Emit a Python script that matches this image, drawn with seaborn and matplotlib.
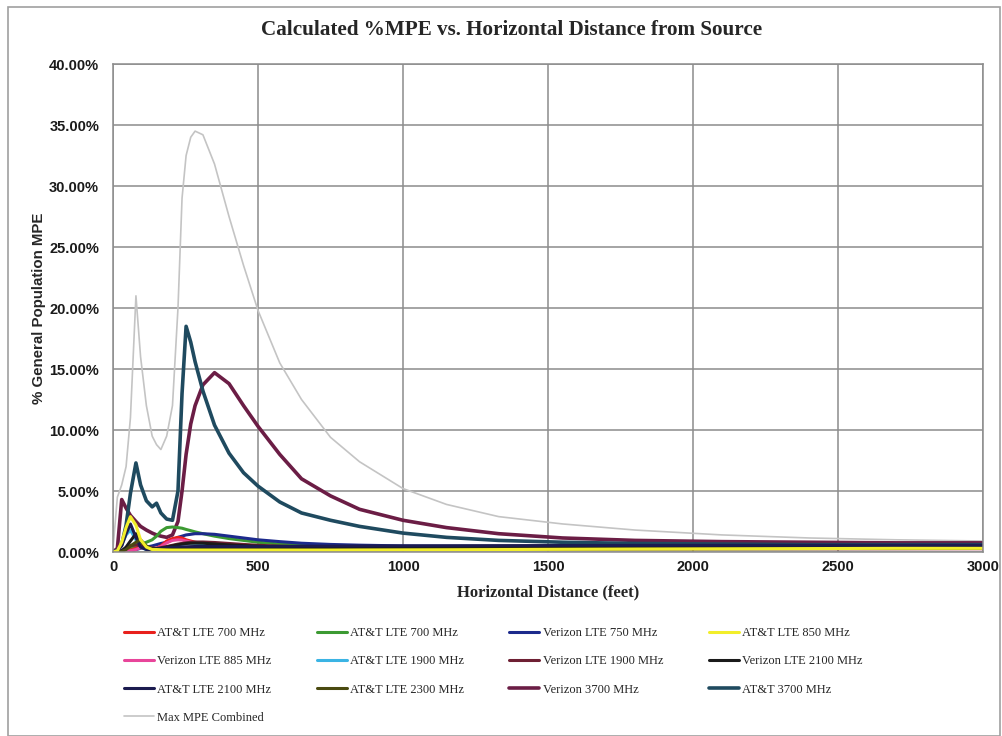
import numpy as np
import pandas as pd
import matplotlib
matplotlib.use("Agg")
import matplotlib.pyplot as plt
from matplotlib.ticker import PercentFormatter, MultipleLocator
from matplotlib.patches import Rectangle
import seaborn as sns

# ---------------- data (percent of general population MPE) ----------------
distance_ft = [0, 15, 30, 45, 60, 79, 95, 115, 135, 150, 165, 185, 205, 224, 238, 252,
               268, 283, 310, 350, 400, 450, 500, 575, 650, 750, 850, 1000, 1150, 1330,
               1550, 1800, 2100, 2400, 2700, 3000]

att_lte_700_a = [0, 0, 0, 0.05, 0.15, 0.3, 0.5, 0.4, 0.3, 0.3, 0.5, 0.9, 1.1, 1.2, 1.15, 1.0,
                 0.9, 0.8, 0.7, 0.6, 0.5, 0.45, 0.4, 0.36, 0.33, 0.3, 0.3, 0.3, 0.3, 0.3,
                 0.3, 0.3, 0.3, 0.3, 0.3, 0.3]
att_lte_700_b = [0, 0, 0.05, 0.15, 0.3, 0.5, 0.6, 0.8, 1.0, 1.3, 1.7, 2.0, 2.05, 2.0, 1.95, 1.85,
                 1.75, 1.65, 1.5, 1.3, 1.1, 0.95, 0.8, 0.65, 0.55, 0.45, 0.4, 0.35, 0.33, 0.3,
                 0.3, 0.3, 0.3, 0.3, 0.3, 0.3]
vzw_lte_750 = [0, 0, 0, 0.05, 0.1, 0.2, 0.3, 0.4, 0.5, 0.6, 0.7, 0.8, 1.0, 1.2, 1.3, 1.4,
               1.45, 1.5, 1.5, 1.45, 1.3, 1.15, 1.0, 0.85, 0.72, 0.62, 0.56, 0.5, 0.48, 0.47,
               0.47, 0.47, 0.47, 0.47, 0.47, 0.47]
att_lte_850 = [0, 0.1, 0.8, 2.0, 2.9, 2.2, 1.0, 0.4, 0.2, 0.2, 0.18, 0.16, 0.15, 0.15, 0.15, 0.15,
               0.15, 0.15, 0.15, 0.15, 0.15, 0.15, 0.15, 0.15, 0.15, 0.15, 0.16, 0.17, 0.18, 0.2,
               0.22, 0.24, 0.26, 0.28, 0.3, 0.3]
vzw_lte_885 = [0, 0, 0, 0.05, 0.1, 0.2, 0.35, 0.3, 0.25, 0.3, 0.45, 0.75, 0.95, 1.0, 0.98, 0.9,
               0.82, 0.74, 0.65, 0.56, 0.48, 0.42, 0.38, 0.34, 0.31, 0.29, 0.28, 0.27, 0.27, 0.27,
               0.27, 0.27, 0.27, 0.27, 0.27, 0.27]
att_lte_1900 = [0, 0.1, 0.6, 1.4, 1.8, 1.0, 0.4, 0.2, 0.2, 0.25, 0.3, 0.4, 0.5, 0.6, 0.65, 0.7,
                0.72, 0.72, 0.7, 0.62, 0.55, 0.48, 0.42, 0.38, 0.35, 0.33, 0.32, 0.32, 0.32, 0.33,
                0.34, 0.35, 0.36, 0.37, 0.38, 0.38]
vzw_lte_1900 = [0, 0, 0.1, 0.3, 0.5, 0.6, 0.5, 0.35, 0.3, 0.3, 0.35, 0.45, 0.55, 0.65, 0.7, 0.75,
                0.8, 0.82, 0.82, 0.78, 0.7, 0.62, 0.55, 0.48, 0.43, 0.4, 0.38, 0.37, 0.37, 0.38,
                0.39, 0.4, 0.41, 0.42, 0.43, 0.44]
vzw_lte_2100 = [0, 0, 0.1, 0.4, 0.9, 1.5, 0.9, 0.4, 0.25, 0.25, 0.3, 0.4, 0.5, 0.6, 0.65, 0.7,
                0.72, 0.73, 0.72, 0.66, 0.58, 0.52, 0.47, 0.43, 0.41, 0.4, 0.4, 0.4, 0.41, 0.42,
                0.43, 0.45, 0.46, 0.47, 0.48, 0.48]
att_lte_2100 = [0, 0.1, 0.5, 1.5, 2.3, 1.2, 0.4, 0.2, 0.2, 0.25, 0.3, 0.35, 0.38, 0.4, 0.42, 0.43,
                0.44, 0.45, 0.45, 0.45, 0.45, 0.45, 0.45, 0.46, 0.47, 0.48, 0.49, 0.5, 0.51, 0.52,
                0.53, 0.54, 0.55, 0.55, 0.55, 0.55]
att_lte_2300 = [0, 0, 0.05, 0.2, 0.5, 0.8, 1.0, 0.5, 0.25, 0.2, 0.2, 0.2, 0.2, 0.2, 0.2, 0.2,
                0.2, 0.2, 0.2, 0.2, 0.2, 0.2, 0.2, 0.2, 0.2, 0.2, 0.2, 0.2, 0.21, 0.22,
                0.23, 0.24, 0.25, 0.26, 0.27, 0.28]
vzw_3700 = [0, 0.3, 4.3, 3.6, 3.0, 2.5, 2.1, 1.8, 1.55, 1.4, 1.3, 1.2, 1.4, 2.5, 5.0, 8.0,
            10.5, 12.0, 13.7, 14.7, 13.8, 12.0, 10.3, 8.0, 6.0, 4.6, 3.5, 2.6, 2.0, 1.5,
            1.15, 0.95, 0.85, 0.8, 0.75, 0.75]
att_3700 = [0, 0.1, 0.6, 2.2, 4.8, 7.3, 5.5, 4.2, 3.7, 4.0, 3.2, 2.7, 2.6, 5.0, 13.0, 18.5,
            17.2, 15.6, 13.2, 10.4, 8.1, 6.5, 5.4, 4.1, 3.2, 2.6, 2.1, 1.55, 1.2, 0.95,
            0.8, 0.7, 0.65, 0.6, 0.6, 0.6]
max_mpe_combined = [0.3, 4.5, 5.5, 7.0, 11.0, 21.0, 16.0, 12.0, 9.5, 8.8, 8.4, 9.5, 12.0, 20.0, 29.0, 32.5,
                    34.0, 34.5, 34.2, 31.8, 27.5, 23.5, 19.8, 15.5, 12.5, 9.4, 7.4, 5.2, 3.9, 2.9,
                    2.3, 1.8, 1.4, 1.15, 1.0, 0.9]

series_names = ["AT&T LTE 700 MHz", "AT&T LTE 700 MHz", "Verizon LTE 750 MHz", "AT&T LTE 850 MHz",
                "Verizon LTE 885 MHz", "AT&T LTE 1900 MHz", "Verizon LTE 1900 MHz",
                "Verizon LTE 2100 MHz", "AT&T LTE 2100 MHz", "AT&T LTE 2300 MHz",
                "Verizon 3700 MHz", "AT&T 3700 MHz", "Max MPE Combined"]
series_values = [att_lte_700_a, att_lte_700_b, vzw_lte_750, att_lte_850, vzw_lte_885,
                 att_lte_1900, vzw_lte_1900, vzw_lte_2100, att_lte_2100, att_lte_2300,
                 vzw_3700, att_3700, max_mpe_combined]
series_colors = ["#E8201C", "#3C9A32", "#1C2A8C", "#F2EE2A", "#E8459A", "#3BB4E4",
                 "#6E1F33", "#1A1A1A", "#1B1B4F", "#4A4A10", "#6B1D45", "#1F4A5F", "#C4C4C4"]
series_widths = [2.2, 2.2, 2.2, 2.2, 2.2, 2.2, 2.2, 2.2, 2.2, 2.2, 2.6, 2.6, 1.2]

# ---------------- figure ----------------
sns.set_theme(style="white")
plt.rcParams["font.family"] = ["Liberation Sans", "DejaVu Sans"]

fig = plt.figure(figsize=(10.02, 7.36), dpi=100)
ax = fig.add_axes([0.1128, 0.25, 0.981 - 0.1128, 0.913 - 0.25])

draw_order = [12, 10, 11, 1, 2, 0, 4, 5, 6, 7, 8, 9, 3]
handles = {}
for i in draw_order:
    sns.lineplot(x=distance_ft, y=series_values[i], color=series_colors[i],
                 linewidth=series_widths[i], ax=ax, label=series_names[i] + f"__{i}",
                 legend=False)
    handles[i] = ax.lines[-1]
    handles[i].set_solid_joinstyle("round")
    handles[i].set_solid_capstyle("round")

ax.set_xlim(0, 3000)
ax.set_ylim(0, 40)
ax.xaxis.set_major_locator(MultipleLocator(500))
ax.yaxis.set_major_locator(MultipleLocator(5))
ax.yaxis.set_major_formatter(PercentFormatter(xmax=100, decimals=2))
ax.grid(True, color="#8C8C8C", linewidth=1.1)
ax.set_axisbelow(True)
for s in ax.spines.values():
    s.set_color("#8C8C8C")
    s.set_linewidth(1.1)
ax.tick_params(axis="y", labelsize=10.5, length=0, pad=10)
ax.tick_params(axis="x", labelsize=10.5, length=0, pad=6)
for lab in ax.get_xticklabels() + ax.get_yticklabels():
    lab.set_fontweight("bold")
    lab.set_color("#1a1a1a")

serif = ["Liberation Serif", "DejaVu Serif"]
ax.set_xlabel("Horizontal Distance (feet)", fontsize=12, fontweight="bold",
              family=serif, labelpad=7)
ax.set_ylabel("% General Population MPE", fontsize=10.8, fontweight="bold",
              family=["Liberation Sans", "DejaVu Sans"], labelpad=2)
fig.text(0.511, 0.959, "Calculated %MPE vs. Horizontal Distance from Source",
         ha="center", va="center", fontsize=15.2, fontweight="bold", family=serif)

# legend: column-major order so the rows read like the reference
legend_order = [0, 4, 8, 12, 1, 5, 9, 2, 6, 10, 3, 7, 11]
leg = fig.legend([handles[i] for i in legend_order],
                 [series_names[i] for i in legend_order],
                 loc="upper left", bbox_to_anchor=(0.1235, 0.148), ncol=4,
                 frameon=False, prop={"family": serif, "size": 9},
                 handlelength=2.4, handletextpad=0.3, columnspacing=3.6,
                 labelspacing=1.3, borderaxespad=0, borderpad=0)

fig.patches.append(Rectangle((0.008, 0.0), 0.99, 0.99, transform=fig.transFigure,
                             fill=False, edgecolor="#A0A0A0", linewidth=1.2))

fig.savefig("out.png", dpi=100, facecolor="white")
